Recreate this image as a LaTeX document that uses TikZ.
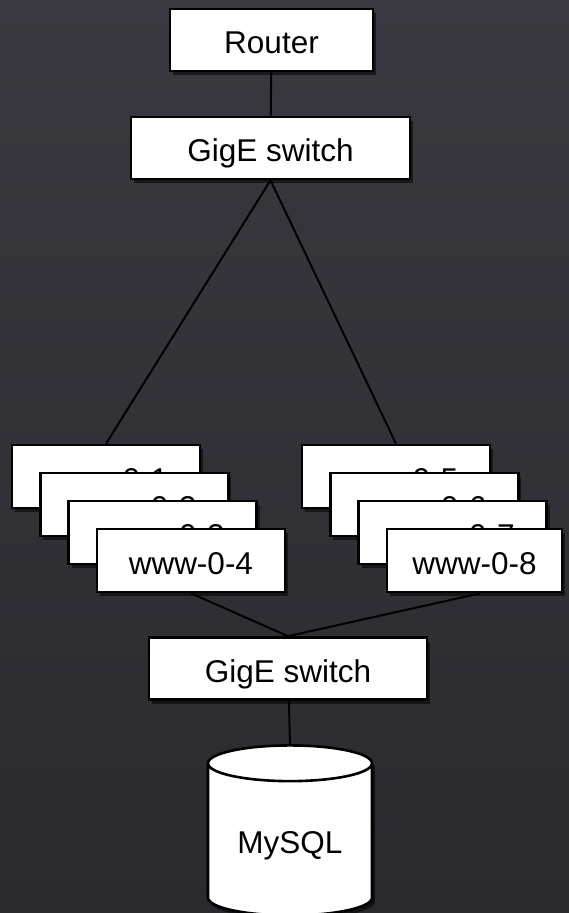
\documentclass[tikz,border=0pt]{standalone}
\usepackage{fontspec}
\setmainfont{Liberation Sans}
\usetikzlibrary{shapes.geometric, shadows}
\definecolor{bgtop}{HTML}{3A393F}
\definecolor{bgbottom}{HTML}{2A292E}
\definecolor{boxline}{HTML}{000000}

\tikzset{
  netbox/.style={draw=boxline, line width=2.6pt, fill=white, inner sep=0pt,
    minimum height=62pt, font=\fontsize{31.5}{36}\selectfont,
    text height=27pt, text depth=0pt,
    drop shadow={shadow xshift=3pt, shadow yshift=-4pt, opacity=0.55, fill=black}},
  hostbox/.style={netbox, minimum width=188pt, minimum height=63pt},
  dbshape/.style={cylinder, shape border rotate=90, aspect=0.34, draw=boxline,
    line width=2.6pt, fill=white, inner sep=0pt, font=\fontsize{31.5}{36}\selectfont,
    text height=27pt, text depth=0pt,
    drop shadow={shadow xshift=3pt, shadow yshift=-4pt, opacity=0.55, fill=black}},
  link/.style={line width=2pt, draw=black}
}

\begin{document}
\begin{tikzpicture}[x=1pt, y=-1pt]
  % background
  \shade[top color=bgtop, bottom color=bgbottom] (0,0) rectangle (569,913);
  \useasboundingbox (0,0) rectangle (569,913);

  \node[netbox, minimum width=203pt] (router) at (271.5,40) {Router};
  \node[netbox, minimum width=279pt] (core) at (270.5,148) {GigE switch};

  % web servers, stacked
  \foreach \i/\n in {0/1,1/2,2/3,3/4}
    \node[hostbox] (www\n) at (106+28.3*\i, 476.5+28*\i) {www-0-\n};
  \foreach \i/\n in {0/5,1/6,2/7}
    \node[hostbox] (www\n) at (396+28.3*\i, 476.5+28*\i) {www-0-\n};
  \node[hostbox, minimum width=175pt] (www8) at (474.5,560.5) {www-0-8};

  \node[netbox, minimum width=278pt] (back) at (288,668.5) {GigE switch};
  \node[dbshape, minimum width=164pt, minimum height=170pt] (db) at (290,840) {MySQL};

  \draw[link] (router) -- (core);
  \draw[link] (core.south) -- (www1.north);
  \draw[link] (core.south) -- (www5.north);
  \draw[link] (www4.south) -- (back.north);
  \draw[link] ([xshift=6pt]www8.south) -- (back.north);
  \draw[link] (back) -- (db.north);
\end{tikzpicture}
\end{document}
